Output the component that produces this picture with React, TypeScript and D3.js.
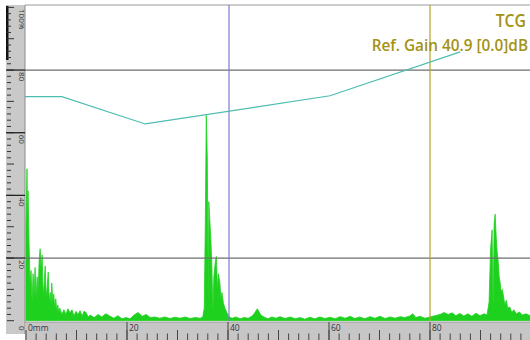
import React from "react";
import * as d3 from "d3";

const depthMm = [
  0.0, 0.2, 0.3, 0.4, 0.6, 0.8, 1.0, 1.2, 1.4, 1.6, 1.8, 2.0, 2.2, 2.4, 2.6, 2.8, 3.0, 3.2, 3.4, 3.6,
  3.8, 4.0, 4.2, 4.4, 4.6, 4.8, 5.0, 5.1, 5.3, 5.5, 5.7, 5.9, 6.1, 6.3, 6.5, 6.7, 7.1, 7.5, 7.9, 8.3,
  8.7, 9.1, 9.5, 9.9, 10.3, 10.7, 11.1, 11.5, 11.9, 12.3, 12.7, 13.5, 14.3, 15.0, 15.8, 16.6, 17.4, 18.2, 19.0, 19.8,
  20.6, 21.4, 22.2, 23.0, 23.8, 24.6, 25.5, 26.5, 27.5, 28.5, 29.5, 30.5, 31.5, 32.5, 33.5, 34.5, 35.0, 35.3, 35.5, 35.7,
  35.9, 36.1, 36.2, 36.4, 36.6, 36.8, 37.0, 37.2, 37.5, 37.7, 37.9, 38.1, 38.4, 38.6, 38.8, 39.1, 39.4, 39.8, 40.2, 40.8,
  41.6, 42.4, 43.2, 44.0, 44.8, 45.3, 45.8, 46.1, 46.5, 47.1, 47.9, 48.7, 49.5, 50.3, 51.3, 52.3, 53.3, 54.3, 55.2, 56.2,
  57.2, 58.2, 59.2, 60.2, 61.2, 62.2, 63.2, 64.2, 65.1, 66.1, 67.1, 68.1, 69.1, 70.1, 71.1, 72.1, 73.1, 74.1, 75.0, 76.0,
  76.6, 77.2, 78.0, 79.0, 80.0, 81.0, 82.0, 82.8, 83.6, 84.4, 85.1, 85.9, 86.7, 87.5, 88.3, 89.1, 89.9, 90.7, 91.3, 91.7,
  92.0, 92.3, 92.5, 92.7, 92.9, 93.1, 93.3, 93.5, 93.7, 93.9, 94.1, 94.3, 94.6, 94.8, 95.1, 95.4, 95.8, 96.2, 96.6, 97.1,
  97.7, 98.3, 99.0, 99.8, 100.0,
];

const amplitudePct = [
  30, 48.5, 30, 41.5, 25, 12, 16, 6, 15, 8, 17, 7, 14, 9, 19, 23, 16, 21, 8, 12,
  17.5, 7, 11, 15.5, 6, 9, 5, 12, 6, 8.5, 4, 7, 3, 5, 2.5, 4, 2, 3.5, 2, 3.8,
  2.5, 3.5, 1.5, 3, 2, 3.2, 1.5, 3, 2.6, 1.2, 1.8, 1, 2, 1.2, 2.2, 1.5, 0.8, 1.6, 0.6, 1,
  0.6, 1.8, 2.6, 1.4, 2, 1, 1.2, 0.8, 1.2, 0.7, 1.1, 0.8, 1.2, 0.7, 1.0, 0.8, 1.2, 4, 30, 65.5,
  52, 6, 38, 32, 26, 18, 3, 14, 19, 20.5, 10, 15, 12, 7, 9, 5.5, 4, 2.5, 1.2, 0.8,
  1.2, 0.6, 1, 0.8, 1.5, 2.5, 3.8, 3, 1.8, 1.2, 0.6, 1.2, 0.8, 1.3, 0.7, 1.2, 0.6, 1, 0.5, 1.1,
  0.6, 1.2, 0.7, 1.1, 0.6, 1.3, 0.8, 1.4, 0.7, 1.2, 0.6, 1.3, 0.8, 1.4, 0.7, 1.2, 0.8, 1.3, 1, 1.5,
  2.2, 1, 1.4, 0.8, 1.2, 1.6, 2, 2.6, 2, 2.5, 1.6, 2.3, 1.5, 2.2, 1.4, 2.4, 1.6, 2.2, 1.8, 6,
  23, 29, 3, 31, 34, 27, 22, 19, 14, 12, 9, 10, 7.5, 5, 6.5, 4, 4.4, 2.6, 3.5, 2.2,
  2.8, 1.8, 2.2, 1.6, 2,
];

const tcgDepth = [-1, 7.1, 23.6, 60.2, 86.0];
const tcgGainPct = [71.5, 71.5, 62.8, 71.8, 85.8];

const xTickLabels = ["0mm", "20", "40", "60", "80"];
const xTickValues = [0, 20, 40, 60, 80];
const yTickLabels = ["100%", "80", "60", "40", "20", "0"];
const yTickValues = [100, 80, 60, 40, 20, 0];
const gridLevels = [80, 20];
const gateDepths = [40.2, 80];

export default function App() {
  const W = 530;
  const H = 340;
  const left = 25;
  const x = d3.scaleLinear().domain([0, 100]).range([26, 531]);
  const y = d3.scaleLinear().domain([0, 100]).range([320.7, 7.4]);
  const plotTop = 5;
  const plotBottom = 322;

  const sig = depthMm.map((d, i) => ({ d, a: amplitudePct[i] }));
  const area = d3
    .area<{ d: number; a: number }>()
    .x((p) => x(p.d))
    .y0(y(0))
    .y1((p) => y(p.a));
  const tcg = tcgDepth.map((d, i) => [x(d), y(tcgGainPct[i])] as [number, number]);
  const line = d3.line();

  const minorX = d3.range(0, 101, 2);
  const minorY = d3.range(0, 101, 2);

  return (
    <svg
      width={W}
      height={H}
      style={{ position: "absolute", left: 0, top: 0, background: "#fff" }}
      fontFamily="'Open Sans', 'Noto Sans', sans-serif"
    >
      <defs>
        <clipPath id="plotclip">
          <rect x={left} y={plotTop} width={W - left} height={plotBottom - plotTop - 1} />
        </clipPath>
      </defs>
      {/* left ruler */}
      <rect x={6} y={5} width={left - 6} height={329} fill="#c9c9c9" />
      <line x1={left} x2={left} y1={5} y2={334} stroke="#8a8a8a" strokeWidth={1} />
      <rect x={6} y={6} width={2.5} height={54} fill="#111" />
      {minorY.map((v) => (
        <line
          key={"my" + v}
          x1={7}
          x2={v % 10 === 0 ? 14 : 11}
          y1={y(v)}
          y2={y(v)}
          stroke="#333"
          strokeWidth={1}
        />
      ))}
      {gridLevels.concat([60, 40]).map((v) => (
        <line key={"ml" + v} x1={6} x2={left} y1={y(v)} y2={y(v)} stroke="#222" strokeWidth={1.3} />
      ))}
      {yTickValues.map((v, i) => (
        <text
          key={"yl" + v}
          transform={`translate(18.5, ${v === 100 ? 9 : v === 0 ? 326 : y(v) + 2}) rotate(90)`}
          fontSize={8}
          fill="#333"
        >
          {yTickLabels[i]}
        </text>
      ))}

      {/* bottom ruler */}
      <rect x={left} y={plotBottom} width={W - left} height={H - plotBottom} fill="#c6c6c6" />
      <line x1={left} x2={W} y1={plotBottom} y2={plotBottom} stroke="#9a9a9a" />
      {minorX.map((v) => (
        <line
          key={"mx" + v}
          x1={x(v)}
          x2={x(v)}
          y1={v % 10 === 0 ? 330 : 333.5}
          y2={H}
          stroke="#444"
          strokeWidth={1}
        />
      ))}
      {xTickValues.map((v, i) => (
        <g key={"xl" + v}>
          {v > 0 && (
            <line x1={x(v)} x2={x(v)} y1={plotBottom} y2={H} stroke="#555" strokeWidth={1.2} />
          )}
          <text x={x(v) + 2} y={330.5} fontSize={8.5} fill="#333">
            {xTickLabels[i]}
          </text>
        </g>
      ))}

      {/* plot */}
      <line x1={left} x2={W} y1={plotTop} y2={plotTop} stroke="#9a9a9a" strokeWidth={1.2} />
      <g clipPath="url(#plotclip)">
        <path d={area(sig) || ""} fill="#1fd11f" stroke="#1fd11f" strokeWidth={0.8} />
        {gridLevels.map((v) => (
          <line key={"g" + v} x1={left} x2={W} y1={y(v)} y2={y(v)} stroke="#6e6e6e" strokeWidth={1.3} />
        ))}
        <line x1={x(gateDepths[0])} x2={x(gateDepths[0])} y1={plotTop} y2={plotBottom} stroke="#7b7bd0" strokeWidth={1.2} />
        <line x1={x(gateDepths[1])} x2={x(gateDepths[1])} y1={plotTop} y2={plotBottom} stroke="#b3a52a" strokeWidth={1.2} />
        <path d={line(tcg) || ""} fill="none" stroke="#4dbdb0" strokeWidth={1.2} />
      </g>

      {/* labels */}
      <text
        transform="translate(526, 27) scale(0.9, 1)"
        textAnchor="end"
        fontSize={17.5}
        fill="#a39213"
        fontWeight={600}
      >
        TCG
      </text>
      <text
        transform="translate(528, 50.5) scale(0.93, 1)"
        textAnchor="end"
        fontSize={16.5}
        fill="#a39213"
        fontWeight={600}
      >
        Ref. Gain 40.9 [0.0]dB
      </text>
    </svg>
  );
}
